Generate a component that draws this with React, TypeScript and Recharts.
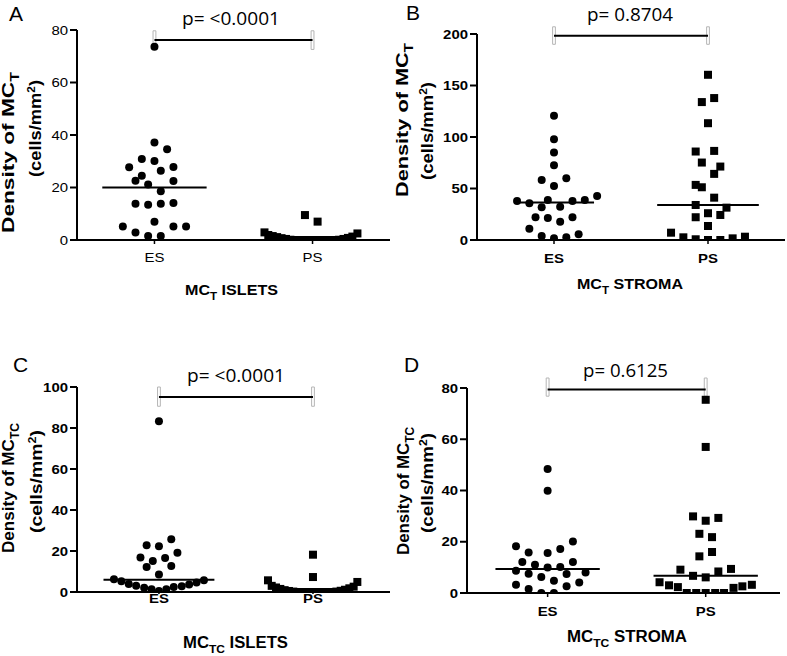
import React from 'react';
import { ScatterChart, Scatter, XAxis, YAxis, ReferenceLine, ReferenceArea } from 'recharts';

// ---------- shared ----------
const categories = ['ES', 'PS'];
const slotStep = 0.04; // horizontal jitter unit (category units)

// ---------- Panel A: MC_T islets ----------
const aEsValues = [73.6, 37.1, 34.6, 30.9, 30.1, 27.7, 26.4, 27.8, 24.5, 22.6, 22.5, 21.1, 18.6, 13.8, 13.4, 13.8, 14.1, 7.0, 5.1, 2.9, 1.5, 1.5, 5.1, 5.1];
const aEsSlots = [0, 0, 2, -2, 0, -4, 1, 3, -2, -3, 3, -1, 1, -3, -1, 1, 3, 0, -5, -3, -1, 1, 3, 5];
const aPsValues = [9.5, 7.0, 2.9, 2.5, 1.9, 1.5, 1.1, 0.7, 0.4, 0.1, 0, 0, 0, 0, 0, 0, 0, 0, 0, 0, 0.1, 0.4, 0.8, 1.3];
const aPsSlots = [-1.2, 0.8, -7.6, 7.1, -7.0, -6.3, -5.6, -4.9, -4.2, -3.5, -2.8, -2.1, -1.4, -0.7, 0, 0.7, 1.4, 2.1, 2.8, 3.5, 4.2, 4.9, 5.6, 6.3];
const aMedians = [20, 0];
const aYTicks = [0, 20, 40, 60, 80];
const aPValue = 'p= <0.0001';

// ---------- Panel B: MC_T stroma ----------
const bEsValues = [120.6, 97.9, 84.9, 72.6, 58.3, 60.0, 52.5, 37.9, 35.7, 38.9, 31.8, 32.4, 37.9, 38.9, 42.8, 22.1, 21.4, 17.8, 22.1, 11.0, 3.9, 1.6, 2.6, 5.5];
const bEsSlots = [0, 0, 0, 0, -2, 2, 0, -6, -4, -1, -2, 1, 3, 5, 7, -3, -1, 1, 3, -4, -2, 0, 2, 4];
const bPsValues = [160.4, 133.9, 137.8, 113.4, 85.9, 86.5, 75.2, 71.3, 64.2, 53.5, 51.2, 41.1, 34.0, 31.4, 26.0, 24.3, 22.1, 13.6, 7.1, 2.6, 0.7, 0, 0, 1.6, 3.2];
const bPsSlots = [0, -1, 1, 0, -2, 1, -1, 2, 1, -2, -1, 1, -2, 3, 0, 2, -2, 0, -6, -4, -2, 0, 2, 4, 6];
const bMedians = [36.3, 34.0];
const bYTicks = [0, 50, 100, 150, 200];
const bPValue = 'p= 0.8704';

// ---------- Panel C: MC_TC islets ----------
const cEsValues = [83.3, 22.8, 22.3, 25.7, 16.8, 15.1, 16.6, 19.2, 12.2, 12.7, 8.5, 6.2, 5.2, 3.9, 3.1, 2.1, 1.3, 0.5, 1.3, 2.4, 2.8, 3.6, 4.6, 5.7];
const cEsSlots = [0, -2, 0, 2, -3, -1, 1, 3, -2, 2, 0, -7.3, -6.1, -4.9, -3.7, -2.4, -1.2, 0, 1.2, 2.4, 3.7, 4.9, 6.1, 7.3];
const cPsValues = [18.2, 7.3, 5.7, 4.9, 3.0, 2.2, 1.5, 0.9, 0.5, 0.2, 0, 0, 0, 0, 0, 0, 0, 0, 0, 0.2, 0.6, 1.1, 1.8, 2.6];
const cPsSlots = [0, 0, -7.3, 7.2, -6.7, -6.0, -5.3, -4.6, -3.9, -3.2, -2.5, -1.8, -1.1, -0.4, 0.3, 1.0, 1.7, 2.4, 3.1, 3.8, 4.5, 5.2, 5.9, 6.6];
const cMedians = [6.0, 0];
const cYTicks = [0, 20, 40, 60, 80, 100];
const cPValue = 'p= <0.0001';

// ---------- Panel D: MC_TC stroma ----------
const dEsValues = [48.4, 39.9, 18.2, 15.8, 15.6, 17.2, 20.1, 12.1, 11.0, 12.1, 8.7, 10.0, 10.1, 7.5, 6.2, 7.4, 8.0, 4.8, 3.2, 1.6, 2.6, 4.1, 0, 0];
const dEsSlots = [0, 0, -5, -3, 0, 2, 4, -4, -2, 4, -5, 0, 2, -3, -1, 3, 6, 1, -5, -3, 3, 5, -1, 1];
const dPsValues = [75.4, 57.0, 29.9, 28.2, 29.3, 23.1, 21.8, 16.0, 14.3, 9.1, 9.4, 8.4, 6.7, 6.1, 4.2, 3.0, 2.3, 0, 0, 0, 0, 0, 2.0, 2.6, 3.2];
const dPsSlots = [0, 0, -2, 0, 2, -1, 1, 1, -1, -4, 4, 2, -2, 0, -7.3, -5.8, -4.4, -3, -1.5, 0, 1.5, 2.9, 4.4, 5.8, 7.3];
const dMedians = [9.4, 6.7];
const dYTicks = [0, 20, 40, 60, 80];
const dPValue = 'p= 0.6125';

const toPoints = (cat: number, values: number[], slots: number[]) =>
  values.map((v, i) => ({ x: cat + slots[i] * slotStep, y: v }));

// ---------- layout / style ----------
type PanelCfg = {
  box: [number, number, number, number];
  plot: [number, number, number, number]; // left, top, width, height (page coords)
  xDomain: [number, number];
  yDomain: [number, number];
  yTicks: number[];
  es: { values: number[]; slots: number[] };
  ps: { values: number[]; slots: number[] };
  medians: number[];
  medianHalf: [number, number];
  sig: number;
  caps: [number, number];
  bold: boolean;
  xTickSize: number;
  xTickMargin: number;
};

const panels: PanelCfg[] = [
  {
    box: [0, 0, 393, 320], plot: [77, 30, 313, 210], xDomain: [0.51, 2.49], yDomain: [0, 80], yTicks: aYTicks,
    es: { values: aEsValues, slots: aEsSlots }, ps: { values: aPsValues, slots: aPsSlots },
    medians: aMedians, medianHalf: [0.33, 0.33], sig: 76.2, caps: [72.6, 79.7], bold: false, xTickSize: 4, xTickMargin: 9,
  },
  {
    box: [393, 0, 394, 320], plot: [477, 34, 308, 206], xDomain: [0.5, 2.5], yDomain: [0, 200], yTicks: bYTicks,
    es: { values: bEsValues, slots: bEsSlots }, ps: { values: bPsValues, slots: bPsSlots },
    medians: bMedians, medianHalf: [0.26, 0.33], sig: 198.4, caps: [190, 207], bold: true, xTickSize: 4, xTickMargin: 10,
  },
  {
    box: [0, 320, 393, 336], plot: [77, 387, 313, 205], xDomain: [0.468, 2.5], yDomain: [0, 100], yTicks: cYTicks,
    es: { values: cEsValues, slots: cEsSlots }, ps: { values: cPsValues, slots: cPsSlots },
    medians: cMedians, medianHalf: [0.36, 0.33], sig: 95.1, caps: [90.6, 100], bold: true, xTickSize: 2, xTickMargin: 0,
  },
  {
    box: [393, 320, 394, 336], plot: [467, 388, 313, 205], xDomain: [0.49, 2.47], yDomain: [0, 80], yTicks: dYTicks,
    es: { values: dEsValues, slots: dEsSlots }, ps: { values: dPsValues, slots: dPsSlots },
    medians: dMedians, medianHalf: [0.33, 0.33], sig: 79.4, caps: [76.8, 83.9], bold: true, xTickSize: 4, xTickMargin: 10,
  },
];

const Y_AXIS_W = 45;
const X_AXIS_H = 30;
const TICK_FONT = '"Liberation Sans", Arial, sans-serif';
const STRETCH = 1.15;

const Dot = (p: any) => <circle cx={p.cx} cy={p.cy} r={4} fill="#000" />;
const Sq = (p: any) => <rect x={p.cx - 4} y={p.cy - 4} width={8} height={8} fill="#000" />;

const makeYTick = (bold: boolean) => (p: any) => (
  <g transform={`translate(${p.x},${p.y})`}>
    <text transform={`scale(${STRETCH},1)`} textAnchor="end" dy="0.36em" fontFamily={TICK_FONT}
      fontSize={13} fontWeight={bold ? 700 : 400} fill="#000">{p.payload.value}</text>
  </g>
);
const makeXTick = (bold: boolean) => (p: any) => (
  <g transform={`translate(${p.x},${p.y})`}>
    <text transform={`scale(${STRETCH},1)`} textAnchor="middle" dy="0.71em" fontFamily={TICK_FONT}
      fontSize={13} fontWeight={bold ? 700 : 400} fill="#000">{categories[Math.round(p.payload.value) - 1]}</text>
  </g>
);

function Panel({ cfg }: { cfg: PanelCfg }) {
  const [bx, by, bw, bh] = cfg.box;
  const [pl, pt, pw, ph] = cfg.plot;
  const margin = {
    left: pl - bx - Y_AXIS_W,
    top: pt - by,
    right: bx + bw - (pl + pw),
    bottom: by + bh - (pt + ph) - X_AXIS_H,
  };
  const esPts = toPoints(1, cfg.es.values, cfg.es.slots);
  const psPts = toPoints(2, cfg.ps.values, cfg.ps.slots);
  const capW = 0.009;
  return (
    <div style={{ position: 'absolute', left: bx, top: by, width: bw, height: bh }}>
      <ScatterChart width={bw} height={bh} margin={margin}>
        <XAxis type="number" dataKey="x" domain={cfg.xDomain} ticks={[1, 2]} allowDataOverflow interval={0}
          height={X_AXIS_H} axisLine={{ stroke: '#000', strokeWidth: 2 }} tickLine={{ stroke: '#000', strokeWidth: 1.5 }}
          tickSize={cfg.xTickSize} tickMargin={cfg.xTickMargin} tick={makeXTick(cfg.bold)} />
        <YAxis type="number" dataKey="y" domain={cfg.yDomain} ticks={cfg.yTicks} allowDataOverflow interval={0}
          width={Y_AXIS_W} axisLine={{ stroke: '#000', strokeWidth: 2 }} tickLine={{ stroke: '#000', strokeWidth: 2 }}
          tickSize={7} tickMargin={2} tick={makeYTick(cfg.bold)} />
        <ReferenceLine segment={[{ x: 1, y: cfg.sig }, { x: 2, y: cfg.sig }]} stroke="#000" strokeWidth={2} ifOverflow="visible" />
        <ReferenceArea x1={1 - capW} x2={1 + capW} y1={cfg.caps[0]} y2={cfg.caps[1]} fill="#fff" fillOpacity={1}
          stroke="#b5b5b5" strokeWidth={1} ifOverflow="visible" />
        <ReferenceArea x1={2 - capW} x2={2 + capW} y1={cfg.caps[0]} y2={cfg.caps[1]} fill="#fff" fillOpacity={1}
          stroke="#b5b5b5" strokeWidth={1} ifOverflow="visible" />
        <Scatter data={esPts} shape={Dot} fill="#000" isAnimationActive={false} />
        <Scatter data={psPts} shape={Sq} fill="#000" isAnimationActive={false} />
        <ReferenceLine segment={[{ x: 1 - cfg.medianHalf[0], y: cfg.medians[0] }, { x: 1 + cfg.medianHalf[0], y: cfg.medians[0] }]}
          stroke="#000" strokeWidth={2} ifOverflow="visible" />
        <ReferenceLine segment={[{ x: 2 - cfg.medianHalf[1], y: cfg.medians[1] }, { x: 2 + cfg.medianHalf[1], y: cfg.medians[1] }]}
          stroke="#000" strokeWidth={2} ifOverflow="visible" />
      </ScatterChart>
    </div>
  );
}

const LETTER_FONT = '"Liberation Sans", Arial, sans-serif';
const P_FONT = '"Open Sans", "DejaVu Sans", sans-serif';
const TITLE_FONT = '"Liberation Sans", Arial, sans-serif';

function YTitle({ x1, y1, len1, x2, y2, len2, sub }: any) {
  return (
    <g fontFamily={TITLE_FONT} fontWeight={700} fill="#000">
      <text x={x1} y={y1} transform={`rotate(-90 ${x1} ${y1})`} textAnchor="middle" fontSize={17}
        textLength={len1} lengthAdjust="spacingAndGlyphs">
        Density of MC<tspan dy={5} fontSize={12}>{sub}</tspan>
      </text>
      <text x={x2} y={y2} transform={`rotate(-90 ${x2} ${y2})`} textAnchor="middle" fontSize={17}
        textLength={len2} lengthAdjust="spacingAndGlyphs">
        (cells/mm<tspan dy={-6} fontSize={11}>2</tspan><tspan dy={6}>)</tspan>
      </text>
    </g>
  );
}

function XTitle({ x, y, len, sub, word, size }: any) {
  return (
    <text x={x} y={y} textAnchor="middle" fontFamily={TITLE_FONT} fontWeight={700} fontSize={size} fill="#000"
      textLength={len} lengthAdjust="spacingAndGlyphs">
      MC<tspan dy={5} fontSize={size * 0.72}>{sub}</tspan><tspan dy={-5}>{' ' + word}</tspan>
    </text>
  );
}

function PText({ x, y, len, children }: any) {
  return (
    <text x={x} y={y} textAnchor="middle" fontFamily={P_FONT} fontSize={18.5} fill="#000"
      textLength={len} lengthAdjust="spacingAndGlyphs">{children}</text>
  );
}

function Annotations() {
  return (
    <svg width={787} height={656} style={{ position: 'absolute', left: 0, top: 0, pointerEvents: 'none' }}>
      {/* panel letters */}
      <g fontFamily={LETTER_FONT} fontSize={21} fill="#000">
        <text x={9} y={21}>A</text>
        <text x={406} y={20}>B</text>
        <text x={13} y={372}>C</text>
        <text x={404} y={372}>D</text>
      </g>
      {/* p values */}
      <PText x={231} y={25} len={98}>{aPValue}</PText>
      <PText x={630} y={20.5} len={86}>{bPValue}</PText>
      <PText x={236} y={381.5} len={98}>{cPValue}</PText>
      <PText x={625.5} y={376.5} len={85}>{dPValue}</PText>
      {/* y titles */}
      <YTitle x1={14} y1={152.5} len1={161} x2={41} y2={128.5} len2={97} sub="T" />
      <YTitle x1={408} y1={120} len1={154} x2={433} y2={131} len2={98} sub="T" />
      <YTitle x1={14} y1={488} len1={130} x2={42} y2={481.5} len2={103} sub="TC" />
      <YTitle x1={409} y1={491} len1={128} x2={433} y2={483} len2={100} sub="TC" />
      {/* x titles */}
      <XTitle x={231.5} y={295} len={93} sub="T" word="ISLETS" size={15} />
      <XTitle x={630} y={289} len={106} sub="T" word="STROMA" size={15.5} />
      <XTitle x={235.5} y={648} len={105} sub="TC" word="ISLETS" size={16} />
      <XTitle x={627} y={642} len={120} sub="TC" word="STROMA" size={16} />
    </svg>
  );
}

export default function App() {
  return (
    <div style={{ position: 'absolute', left: 0, top: 0, width: 787, height: 656, background: '#fff', overflow: 'hidden' }}>
      {panels.map((cfg, i) => (
        <Panel key={i} cfg={cfg} />
      ))}
      <Annotations />
    </div>
  );
}
